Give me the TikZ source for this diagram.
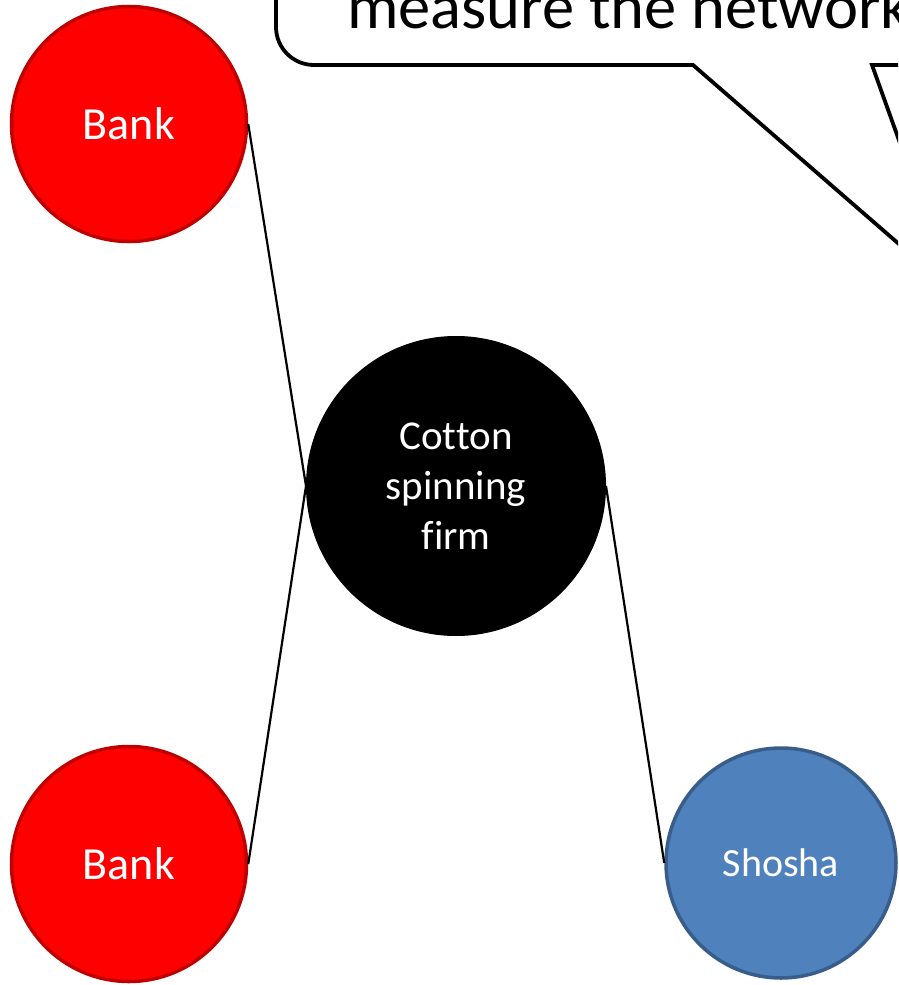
\documentclass[tikz,border=0pt]{standalone}
\usepackage{fontspec}
\setmainfont{Carlito}[Ligatures={NoCommon}]
\definecolor{bankred}{HTML}{FF0000}
\definecolor{bankedge}{HTML}{C00000}
\definecolor{shoshablue}{HTML}{4F81BD}
\definecolor{shoshaedge}{HTML}{385D8A}
\tikzset{
  entity/.style={circle, inner sep=0pt, text=white, align=center, line width=3.5pt},
  bankstyle/.style={entity, fill=bankred, draw=bankedge, minimum size=235pt, font=\fontsize{46}{55}\selectfont},
  shoshastyle/.style={entity, fill=shoshablue, draw=shoshaedge, minimum size=230pt, font=\fontsize{40}{48}\selectfont},
  firmstyle/.style={entity, fill=black, draw=black, line width=1pt, minimum size=299pt, font=\fontsize{41}{50}\selectfont},
  link/.style={line width=2.2pt, black},
  calloutline/.style={line width=3.8pt, black, line join=miter, fill=white}
}
\begin{document}
\begin{tikzpicture}[x=1pt, y=-1pt]
\useasboundingbox (0,0) rectangle (898,985);
\clip (0,0) rectangle (898,985);
\fill[white] (0,0) rectangle (898,985);
% callout
\draw[calloutline] (276,-200) -- (276,27) arc[start angle=180, end angle=90, radius=38] -- (693,65) -- (953,291) -- (872,65) -- (1100,65) -- (1100,-200) -- cycle;
\node[anchor=base west, inner sep=0pt, font=\fontsize{64.5}{77}\selectfont] (txt) at (347,28) {measure the network};
% nodes
\node[bankstyle] (bank1) at (129,124) {Bank};
\node[bankstyle] (bank2) at (129,864) {Bank};
\node[firmstyle] (firm) at (456,486) {Cotton\\spinning\\firm};
\node[shoshastyle] (shosha) at (781,863) {Shosha};
% connectors
\draw[link] (bank1.east) -- (firm.west);
\draw[link] (bank2.east) -- (firm.west);
\draw[link] (firm.east) -- (shosha.west);
\end{tikzpicture}
\end{document}
